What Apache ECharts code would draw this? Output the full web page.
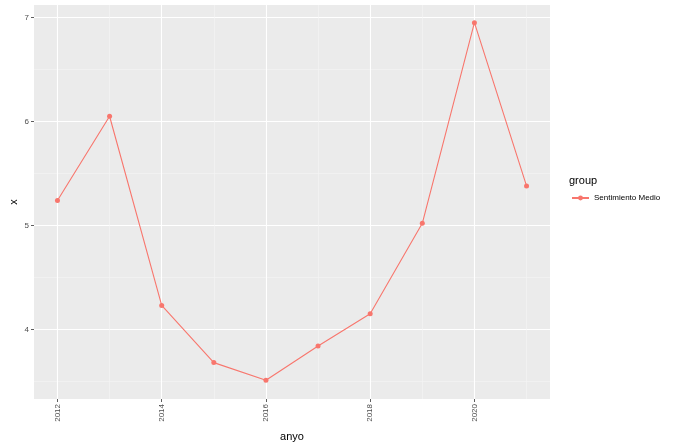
<!DOCTYPE html>
<html><head><meta charset="utf-8">
<script src="https://cdn.jsdelivr.net/npm/echarts@6/dist/echarts.min.js"></script>
<style>html,body{margin:0;padding:0;background:#fff}#c{width:679px;height:448px}</style>
</head><body><div id="c"></div>
<script>
const years = [2012, 2013, 2014, 2015, 2016, 2017, 2018, 2019, 2020, 2021];
const values = [5.24, 6.05, 4.23, 3.68, 3.51, 3.84, 4.15, 5.02, 6.95, 5.38];
const xMajor = [2012, 2014, 2016, 2018, 2020];
const xMinor = [2013, 2015, 2017, 2019, 2021];
const yMajor = [4, 5, 6, 7];
const yMinor = [3.5, 4.5, 5.5, 6.5];
const seriesName = 'Sentimiento Medio';

const font = 'Liberation Sans, Arial, sans-serif';
const xMin = 2011.55, xMax = 2021.45, yMin = 3.33, yMax = 7.12;
const chart = echarts.init(document.getElementById('c'));
chart.setOption({
  animation: false,
  backgroundColor: '#fff',
  grid: {left: 34, right: 129, top: 5, bottom: 49, show: true, backgroundColor: '#EBEBEB', borderWidth: 0,
    outerBoundsMode: 'none', containLabel: false},
  title: {text: 'group', left: 564, top: 170, textStyle: {fontFamily: font, fontSize: 11, fontWeight: 'normal', color: '#000'}},
  legend: {left: 566, top: 189, itemWidth: 17, itemHeight: 6, itemGap: 4,
    textStyle: {fontFamily: font, fontSize: 8, color: '#000'}, data: [seriesName]},
  xAxis: [
    {type: 'value', min: xMin, max: xMax, name: 'anyo', nameLocation: 'middle', nameGap: 32,
     nameTextStyle: {fontFamily: font, fontSize: 11, color: '#000'},
     axisLine: {show: false},
     axisTick: {show: true, length: 3, customValues: xMajor, lineStyle: {color: '#333', width: 0.8}},
     axisLabel: {customValues: xMajor, rotate: 90, margin: 5, fontFamily: font, fontSize: 8, color: '#4D4D4D',
       formatter: v => String(v)},
     splitLine: {show: true, lineStyle: {color: '#fff', width: 1.1}}},
    {type: 'value', min: xMin, max: xMax, position: 'top', show: true,
     axisLine: {show: false}, axisLabel: {show: false},
     axisTick: {show: false, customValues: xMinor},
     splitLine: {show: true, lineStyle: {color: '#F5F5F5', width: 0.6}}}
  ],
  yAxis: [
    {type: 'value', min: yMin, max: yMax, name: 'x', nameLocation: 'middle', nameGap: 15, nameRotate: 90,
     nameMoveOverlap: false,
     nameTextStyle: {fontFamily: font, fontSize: 11, color: '#000'},
     axisLine: {show: false},
     axisTick: {show: true, length: 3, customValues: yMajor, lineStyle: {color: '#333', width: 0.8}},
     axisLabel: {customValues: yMajor, margin: 5, fontFamily: font, fontSize: 8, color: '#4D4D4D'},
     splitLine: {show: true, lineStyle: {color: '#fff', width: 1.1}}},
    {type: 'value', min: yMin, max: yMax, position: 'right',
     axisLine: {show: false}, axisLabel: {show: false},
     axisTick: {show: false, customValues: yMinor},
     splitLine: {show: true, lineStyle: {color: '#F5F5F5', width: 0.6}}}
  ],
  series: [{
    name: seriesName, type: 'line', xAxisIndex: 0, yAxisIndex: 0,
    data: years.map((y, i) => [y, values[i]]),
    symbol: 'circle', symbolSize: 5,
    itemStyle: {color: '#F8766D'}, lineStyle: {color: '#F8766D', width: 1.1}, z: 5
  }]
});
</script></body></html>
